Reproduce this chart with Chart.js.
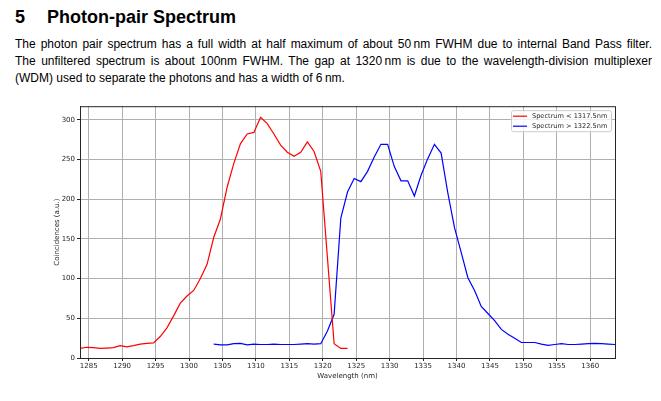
<!DOCTYPE html>
<html>
<head>
<meta charset="utf-8">
<script src="https://cdn.jsdelivr.net/npm/chart.js@4.4.1/dist/chart.umd.min.js"></script>
<style>
  html, body { margin: 0; padding: 0; background: #fff; }
  body { width: 661px; height: 401px; position: relative; overflow: hidden; font-family: "Liberation Sans", sans-serif; color: #000; }
  .h { position: absolute; top: 6px; font-weight: bold; font-size: 18px; line-height: 22px; }
  .p { position: absolute; left: 15px; width: 637px; font-size: 12px; line-height: 16px; white-space: nowrap; }
  .j { text-align: justify; text-align-last: justify; white-space: normal; }
  #wrap { position: absolute; left: 50px; top: 100px; width: 575px; height: 284px; }
</style>
</head>
<body>
<div class="h" style="left:15px">5</div>
<div class="h" style="left:47px">Photon-pair Spectrum</div>
<div class="p j" style="top:36px">The photon pair spectrum has a full width at half maximum of about 50&#8201;nm FWHM due to internal Band Pass filter.</div>
<div class="p j" style="top:53px">The unfiltered spectrum is about 100nm FWHM. The gap at 1320&#8201;nm is due to the wavelength-division multiplexer</div>
<div class="p" style="top:70px">(WDM) used to separate the photons and has a width of 6&#8201;nm.</div>
<div id="wrap"><canvas id="js-chart-spectrum"></canvas></div>
<script>
// wavelength (nm) and coincidences
const redWavelength = [1283.7, 1284.7, 1285.7, 1286.7, 1287.7, 1288.7, 1289.7, 1290.7, 1291.7, 1292.7,
    1293.7, 1294.7, 1295.7, 1296.7, 1297.7, 1298.7, 1299.7, 1300.7, 1301.7, 1302.7,
    1303.7, 1304.7, 1305.7, 1306.7, 1307.7, 1308.7, 1309.7, 1310.7, 1311.7, 1312.7,
    1313.7, 1314.7, 1315.7, 1316.7, 1317.7, 1318.7, 1319.7, 1320.7, 1321.7, 1322.7, 1323.7];
const redCounts = [12, 13.5, 13, 12, 12.5, 13, 15.5, 14, 15.5, 17.5,
    18.5, 19, 27, 38, 53, 69, 78, 85, 100, 118,
    152, 175, 215, 245, 270, 282, 284, 303, 295, 282,
    268, 259, 254, 259, 272, 260, 235, 126, 18, 12, 12];

const blueWavelength = [1303.7, 1304.7, 1305.7, 1306.7, 1307.7, 1308.7, 1309.7, 1310.7, 1311.7, 1312.7,
    1313.7, 1314.7, 1315.7, 1316.7, 1317.7, 1318.7, 1319.7, 1320.7, 1321.7, 1322.7,
    1323.7, 1324.7, 1325.7, 1326.7, 1327.7, 1328.7, 1329.7, 1330.7, 1331.7, 1332.7,
    1333.7, 1334.7, 1335.7, 1336.7, 1337.7, 1338.7, 1339.7, 1340.7, 1341.7, 1342.7,
    1343.7, 1344.7, 1345.7, 1346.7, 1347.7, 1348.7, 1349.7, 1350.7, 1351.7, 1352.7,
    1353.7, 1354.7, 1355.7, 1356.7, 1357.7, 1358.7, 1359.7, 1360.7, 1361.7, 1362.7, 1363.7];
const blueCounts = [17.5, 16.5, 16.5, 18, 18.5, 16.5, 17.5, 17, 17, 17.5,
    17, 17, 17, 17.5, 18, 17.5, 18, 34, 55, 176,
    209, 226, 222, 235, 253, 269, 269, 241, 223, 223,
    204, 230, 251, 269, 258, 208, 164, 133, 101, 85,
    65, 56, 47, 36, 30, 25, 19.5, 19.5, 19.5, 17.5,
    16, 17, 18, 17, 17, 17.5, 18, 18.5, 18, 17.5, 17];

const seriesLabels = ["Spectrum < 1317.5nm", "Spectrum > 1322.5nm"];
const xTicks = [1285, 1290, 1295, 1300, 1305, 1310, 1315, 1320, 1325, 1330, 1335, 1340, 1345, 1350, 1355, 1360];
const yTicks = [0, 50, 100, 150, 200, 250, 300];

const toPoints = (xs, ys) => xs.map((x, i) => ({ x: x, y: ys[i] }));

// matplotlib style frame round the plot area
const framePlugin = {
    id: "frame",
    afterDatasetsDraw(chart) {
        const { ctx, chartArea: a } = chart;
        ctx.save();
        ctx.strokeStyle = "#262626";
        ctx.lineWidth = 1;
        ctx.strokeRect(a.left + 0.5, a.top + 0.5, a.right - a.left, a.bottom - a.top);
        ctx.restore();
    }
};

// legend box in the upper right corner, inside the axes
const insideLegend = {
    id: "insideLegend",
    afterDraw(chart) {
        const { ctx, chartArea: a } = chart;
        const w = 100, h = 21;
        const x0 = a.right - w - 4, y0 = a.top + 4;
        ctx.save();
        ctx.fillStyle = "rgba(255,255,255,0.8)";
        ctx.strokeStyle = "#cccccc";
        ctx.lineWidth = 1;
        ctx.beginPath();
        ctx.roundRect(x0 + 0.5, y0 + 0.5, w, h, 2);
        ctx.fill();
        ctx.stroke();
        ctx.font = "6.6px 'DejaVu Sans'";
        ctx.textBaseline = "middle";
        chart.data.datasets.forEach((ds, i) => {
            const y = y0 + 6 + i * 10;
            ctx.strokeStyle = ds.borderColor;
            ctx.lineWidth = 1.2;
            ctx.beginPath();
            ctx.moveTo(x0 + 2, y);
            ctx.lineTo(x0 + 16, y);
            ctx.stroke();
            ctx.fillStyle = "#262626";
            ctx.fillText(ds.label, x0 + 21, y);
        });
        ctx.restore();
    }
};

document.addEventListener("DOMContentLoaded", function() {
    Chart.defaults.font.family = "'DejaVu Sans', sans-serif";
    Chart.defaults.font.size = 7;
    Chart.defaults.color = "#262626";

    const element = document.getElementById("js-chart-spectrum");
    new Chart(element, {
        type: "line",
        data: {
            datasets: [
                {
                    label: seriesLabels[0],
                    data: toPoints(redWavelength, redCounts),
                    borderColor: "#ff0000",
                    borderWidth: 1.2,
                    pointRadius: 0,
                    tension: 0,
                    fill: false
                },
                {
                    label: seriesLabels[1],
                    data: toPoints(blueWavelength, blueCounts),
                    borderColor: "#0000ff",
                    borderWidth: 1.2,
                    pointRadius: 0,
                    tension: 0,
                    fill: false
                }
            ]
        },
        options: {
            responsive: true,
            maintainAspectRatio: false,
            animation: false,
            layout: { padding: { top: 6, right: 10, left: 0, bottom: 0 } },
            scales: {
                x: {
                    type: "linear",
                    min: 1283.7,
                    max: 1363.7,
                    afterFit: (scale) => { scale.height = 26; },
                    afterBuildTicks: (scale) => { scale.ticks = xTicks.map((v) => ({ value: v })); },
                    ticks: { padding: 1, maxRotation: 0, autoSkip: false, callback: (v) => String(v) },
                    grid: { color: "#b0b0b0", lineWidth: 1, tickLength: 3, tickColor: "#262626" },
                    border: { color: "#262626" },
                    title: { display: true, text: "Wavelength (nm)", padding: { top: 2, bottom: 4 } }
                },
                y: {
                    min: 0,
                    max: 317,
                    afterFit: (scale) => { scale.width = 30; },
                    afterBuildTicks: (scale) => { scale.ticks = yTicks.map((v) => ({ value: v })); },
                    ticks: { padding: 2, callback: (v) => String(v) },
                    grid: { color: "#b0b0b0", lineWidth: 1, tickLength: 3, tickColor: "#262626" },
                    border: { color: "#262626" },
                    title: { display: true, text: "Coincidences (a.u.)", padding: { top: 3, bottom: 2 } }
                }
            },
            plugins: {
                legend: { display: false },
                tooltip: { enabled: false }
            }
        },
        plugins: [framePlugin, insideLegend]
    });
});
</script>
</body>
</html>
